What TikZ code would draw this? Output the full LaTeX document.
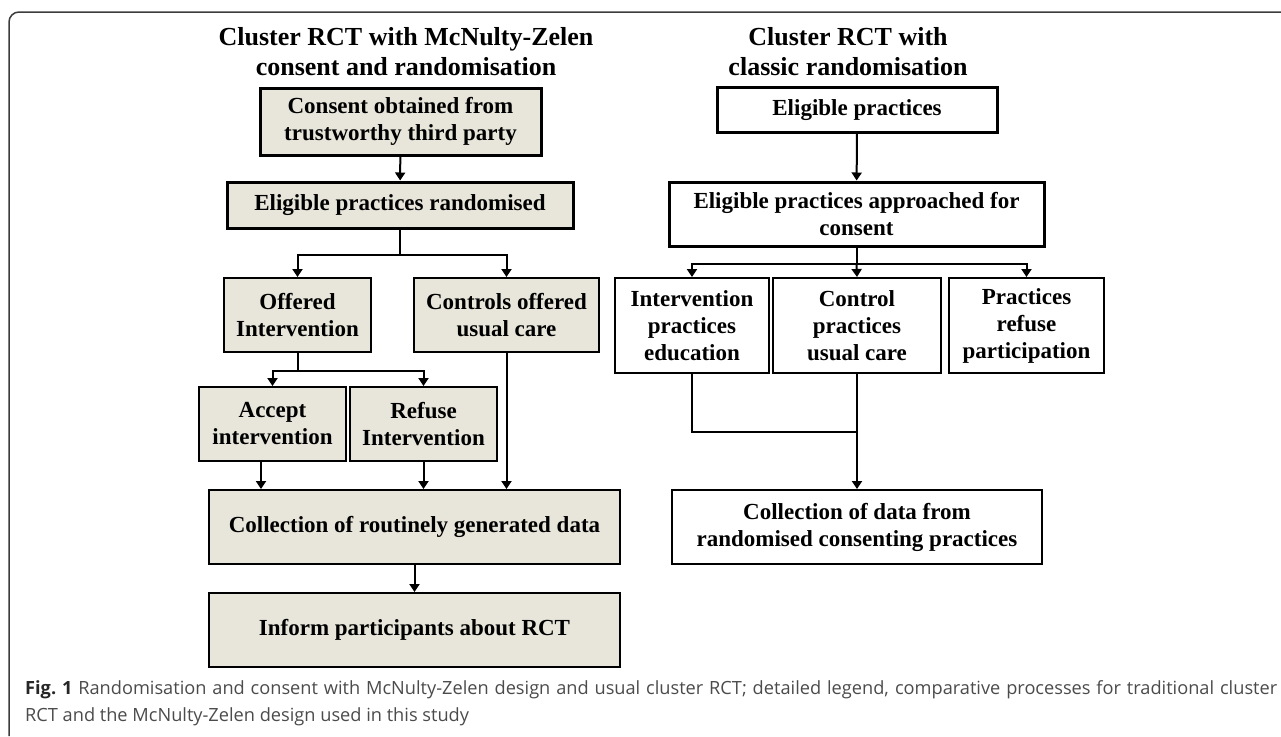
\documentclass[tikz,border=0pt]{standalone}
\usepackage{fontspec}
\setmainfont{Liberation Serif}
\newfontfamily\capfont{Open Sans}
\usetikzlibrary{arrows.meta}
\definecolor{boxfill}{RGB}{232,230,218}
\definecolor{framegray}{RGB}{60,60,60}
\definecolor{capgray}{RGB}{75,75,75}

\tikzset{
  mzbox/.style={draw, line width=2pt, fill=boxfill, align=center, inner sep=0pt,
    font=\fontsize{23}{27}\selectfont\bfseries},
  mzhead/.style={mzbox, line width=3pt},
  crbox/.style={mzbox, fill=white},
  crhead/.style={crbox, line width=3pt},
  title/.style={align=center, font=\fontsize{26}{30}\selectfont\bfseries},
  link/.style={line width=2pt},
  arr/.style={link, -{Triangle[width=10pt,length=8pt]}}
}

\begin{document}
\begin{tikzpicture}[x=1pt, y=-1pt]
\useasboundingbox (0,0) rectangle (1281,736);
% Frame
\draw[framegray, line width=1.5pt, rounded corners=10pt] (9,736) -- (9,12) -- (1281,12);
% Left column: McNulty-Zelen
\node[title] (ltitle) at (406,52) {Cluster RCT with McNulty-Zelen\\consent and randomisation};
\node[mzhead, minimum width=281pt, minimum height=67pt] (consent) at (400.5,121.5) {Consent obtained from\\trustworthy third party};
\node[mzhead, minimum width=346pt, minimum height=46pt] (rand) at (400,205) {Eligible practices randomised};
\node[mzbox, minimum width=147pt, minimum height=74pt] (offer) at (297.5,315) {Offered\\Intervention};
\node[mzbox, minimum width=185pt, minimum height=74pt] (ctrl) at (506.5,315) {Controls offered\\usual care};
\node[mzbox, minimum width=147pt, minimum height=74pt] (accept) at (272.5,424) {Accept\\intervention};
\node[mzbox, minimum width=147pt, minimum height=74pt] (refuse) at (423.5,424) {Refuse\\Intervention};
\node[mzbox, minimum width=411pt, minimum height=74pt] (collect) at (414.5,527) {Collection of routinely generated data};
\node[mzbox, minimum width=411pt, minimum height=74pt] (inform) at (414.5,630) {Inform participants about RCT};
\draw[arr] (consent) -- (rand);
\draw[link] (rand.south) -- ++(0,25) coordinate (rsplit);
\draw[arr] (rsplit) -| (offer.north);
\draw[arr] (rsplit) -| (ctrl.north);
\draw[link] (offer.south) -- ++(0,18) coordinate (osplit);
\draw[arr] (osplit) -| (accept.north);
\draw[arr] (osplit) -| (refuse.north);
\coordinate (accx) at (261,0);
\draw[arr] (accept.south -| accx) -- (collect.north -| accx);
\draw[arr] (refuse.south) -- (refuse.south |- collect.north);
\draw[arr] (ctrl.south) -- (ctrl.south |- collect.north);
\draw[arr] (collect) -- (inform);
% Right column: classic randomisation
\node[title] (rtitle) at (848,52) {Cluster RCT with\\classic randomisation};
\node[crhead, minimum width=280pt, minimum height=45pt] (elig) at (857,110) {Eligible practices};
\node[crhead, minimum width=375pt, minimum height=64pt] (appr) at (856.5,214) {Eligible practices approached for\\consent};
\node[crbox, minimum width=154pt, minimum height=95pt] (intv) at (692,325.5) {Intervention\\practices\\education};
\node[crbox, minimum width=168pt, minimum height=95pt] (ctlp) at (857,325.5) {Control\\practices\\usual care};
\node[crbox, minimum width=155pt, minimum height=95pt] (refp) at (1026.5,325.5) {Practices\\refuse\\participation};
\node[crbox, minimum width=370pt, minimum height=74pt] (colr) at (857,527) {Collection of data from\\randomised consenting practices};
\draw[arr] (elig) -- (appr);
\draw[link] (appr.south) -- ++(0,16) coordinate (asplit);
\draw[arr] (asplit) -| (intv.north);
\draw[arr] (asplit) -- (ctlp.north);
\draw[arr] (asplit) -| (refp.north);
\coordinate (rjoin) at (857,432);
\draw[link] (intv.south) |- (rjoin);
\draw[arr] (ctlp.south) -- (colr.north);
% Caption
\node[anchor=north west, text width=1252pt, inner sep=0pt, align=justify, text=capgray,
      font=\capfont\fontsize{18.2}{27}\selectfont] (caption) at (25,680)
  {{\color{black!85}\bfseries Fig.~1} Randomisation and consent with McNulty-Zelen design and usual cluster RCT; detailed legend, comparative processes for traditional cluster\linebreak RCT and the McNulty-Zelen design used in this study};
\end{tikzpicture}
\end{document}
